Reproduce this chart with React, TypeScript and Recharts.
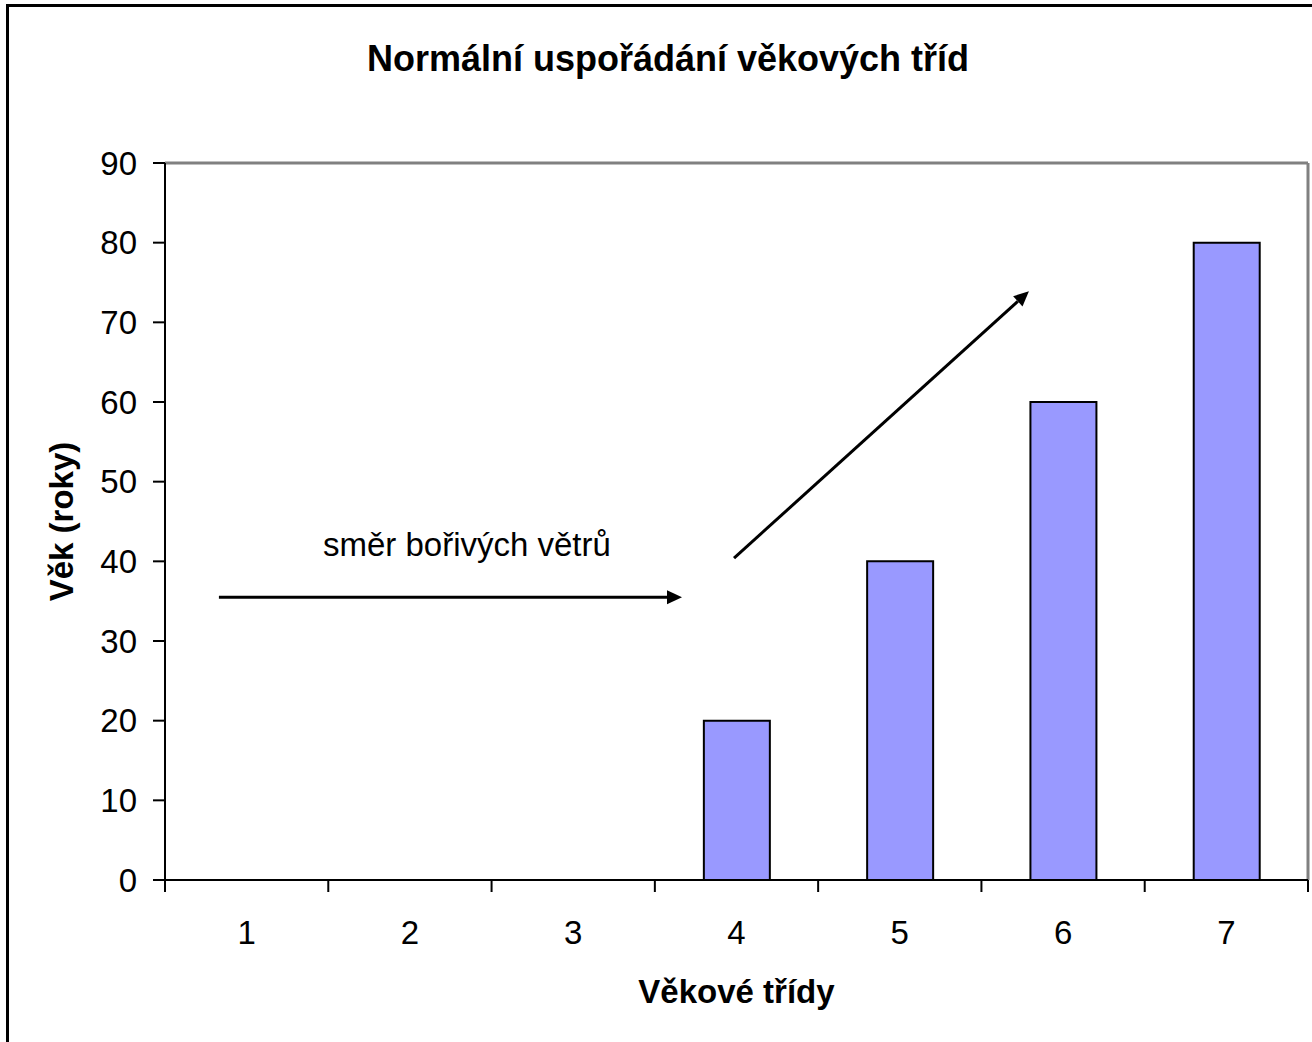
import { BarChart, Bar, XAxis, YAxis, ReferenceLine, ReferenceDot, Label } from 'recharts'

const classes = ['1', '2', '3', '4', '5', '6', '7']
const ages = [0, 0, 0, 20, 40, 60, 80]
const yTicks = [0, 10, 20, 30, 40, 50, 60, 70, 80, 90]

// annotation: wind direction arrows; x on the hidden helper axis (0 = left edge, 6 = right edge of plot)
const windArrowFlat = [{ x: 0.283, y: 35.5 }, { x: 2.714, y: 35.5 }]
const windArrowUp = [{ x: 2.987, y: 40.4 }, { x: 4.535, y: 73.9 }]
const windLabel = { x: 1.585, y: 42.2, text: 'směr bořivých větrů' }

const data = classes.map((c, i) => ({ cls: c, age: ages[i] }))

const FONT = '"Liberation Sans", Arial, sans-serif'

function Arrow(props: any) {
  const { x1, y1, x2, y2 } = props
  const a = Math.atan2(y2 - y1, x2 - x1)
  const len = 15
  const w = 7
  const bx = x2 - len * Math.cos(a)
  const by = y2 - len * Math.sin(a)
  const px = -Math.sin(a) * w
  const py = Math.cos(a) * w
  return (
    <g>
      <line x1={x1} y1={y1} x2={bx} y2={by} stroke="#000" strokeWidth={3} />
      <polygon points={`${x2},${y2} ${bx + px},${by + py} ${bx - px},${by - py}`} fill="#000" />
    </g>
  )
}

function ClassTick(props: any) {
  const { x, y, payload, index } = props
  const half = payload?.offset ?? 81.65
  return (
    <g>
      <line x1={x - half} y1={y} x2={x - half} y2={y + 12} stroke="#000" strokeWidth={2} />
      {index === classes.length - 1 && (
        <line x1={x + half} y1={y} x2={x + half} y2={y + 12} stroke="#000" strokeWidth={2} />
      )}
      <text x={x} y={y + 64} textAnchor="middle" fontSize={33} fontFamily={FONT} fill="#000">
        {payload.value}
      </text>
    </g>
  )
}

export default function App() {
  return (
    <div style={{ position: 'absolute', left: 0, top: 0, width: 1312, height: 1042, overflow: 'hidden', background: '#fff' }}>
      <div style={{ position: 'absolute', left: 6, top: 4, width: 1400, height: 1100, border: '3px solid #000' }} />
      <div
        style={{
          position: 'absolute', left: 0, top: 41, width: 1336, textAlign: 'center',
          fontFamily: FONT, fontWeight: 'bold', fontSize: 36, lineHeight: '36px', color: '#000',
        }}
      >
        Normální uspořádání věkových tříd
      </div>
      <div style={{ position: 'absolute', left: 0, top: 0 }}>
        <BarChart width={1312} height={1042} data={data} margin={{ top: 163, right: 4, left: 0, bottom: 0 }} barSize={66}>
          <XAxis
            dataKey="cls"
            height={162}
            interval={0}
            axisLine={{ stroke: '#000', strokeWidth: 2 }}
            tickLine={false}
            tickSize={0}
            tickMargin={0}
            tick={<ClassTick />}
          >
            <Label
              content={(p: any) => (
                <text x={p.viewBox.x + p.viewBox.width / 2} y={p.viewBox.y + 123} textAnchor="middle" fontSize={33} fontWeight="bold" fontFamily={FONT} fill="#000">
                  Věkové třídy
                </text>
              )}
            />
          </XAxis>
          <XAxis xAxisId="num" type="number" domain={[0, 6]} allowDataOverflow hide />
          <YAxis
            width={165}
            domain={[0, 90]}
            ticks={yTicks}
            interval={0}
            axisLine={{ stroke: '#000', strokeWidth: 2 }}
            tickLine={{ stroke: '#000', strokeWidth: 2 }}
            tickSize={12}
            tickMargin={16}
            tick={{ fontSize: 33, fontFamily: FONT, fill: '#000' }}
          >
            <Label
              content={(p: any) => {
                const cy = p.viewBox.y + p.viewBox.height / 2
                return (
                  <text x={73} y={cy} transform={`rotate(-90 73 ${cy})`} textAnchor="middle" fontSize={33} fontWeight="bold" fontFamily={FONT} fill="#000">
                    Věk (roky)
                  </text>
                )
              }}
            />
          </YAxis>
          <ReferenceLine y={90} stroke="#808080" strokeWidth={3} />
          <ReferenceLine xAxisId="num" x={6} stroke="#808080" strokeWidth={3} />
          <Bar dataKey="age" fill="#9999FF" stroke="#000" strokeWidth={2} isAnimationActive={false} />
          <ReferenceLine xAxisId="num" segment={windArrowFlat} shape={Arrow} />
          <ReferenceLine xAxisId="num" segment={windArrowUp} shape={Arrow} />
          <ReferenceDot
            xAxisId="num"
            x={windLabel.x}
            y={windLabel.y}
            shape={(p: any) => (
              <text x={p.cx} y={p.cy + 12} textAnchor="middle" fontSize={33} fontFamily={FONT} fill="#000">
                {windLabel.text}
              </text>
            )}
          />
        </BarChart>
      </div>
    </div>
  )
}
